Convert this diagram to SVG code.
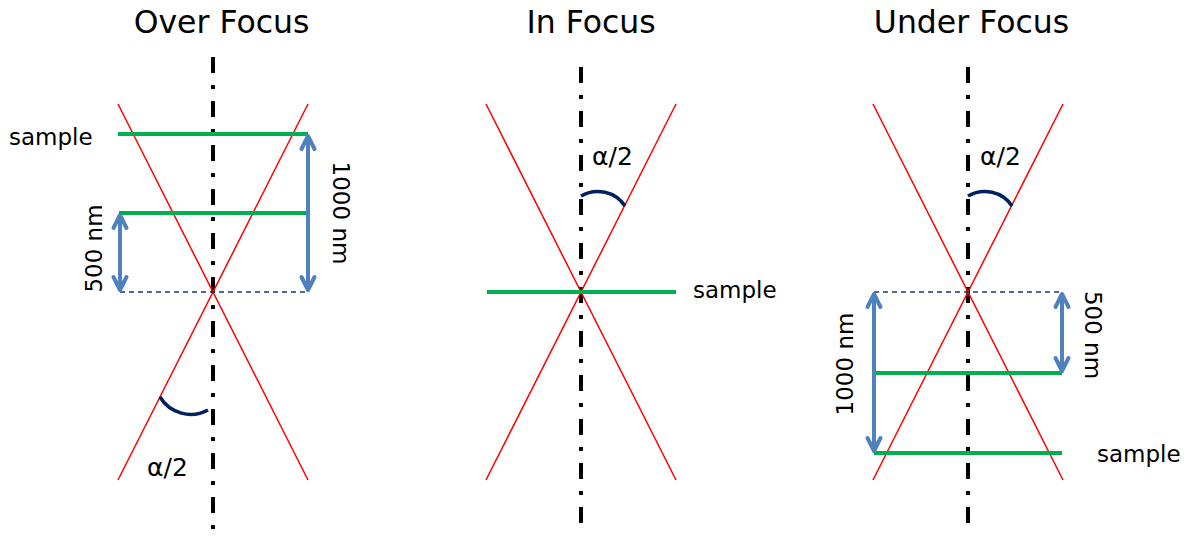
<svg xmlns="http://www.w3.org/2000/svg" width="1192" height="539" viewBox="0 0 1192 539">
<defs>
<style>
.t{font-family:"DejaVu Sans",sans-serif;fill:#000}
.title{font-size:31.5px;text-anchor:middle}
.lbl{font-size:23px}
.al{font-size:25px}
.axis{stroke:#000;stroke-width:4;stroke-dasharray:16 12 4 12;fill:none}
.ray{stroke:#ff0000;stroke-width:1.5;fill:none}
.smp{stroke:#00b050;stroke-width:4;fill:none}
.ref{stroke:#1f3864;stroke-width:1.5;stroke-dasharray:5 4;fill:none}
.dim{stroke:#4f81bd;stroke-width:4;fill:none;marker-start:url(#ah);marker-end:url(#ah)}
.arc{stroke:#002060;stroke-width:3.5;fill:none}
</style>
<marker id="ah" viewBox="-18 -10 22 20" markerWidth="22" markerHeight="20" refX="0" refY="0" orient="auto-start-reverse" markerUnits="userSpaceOnUse" overflow="visible">
<path d="M-13,-6.5 L0,0 L-13,6.5" stroke="#4f81bd" stroke-width="4" fill="none" stroke-linecap="round" stroke-linejoin="round"/>
</marker>
</defs>
<g id="over-focus">
<text class="t title" x="221.5" y="33">Over Focus</text>
<line class="axis" x1="213" y1="57" x2="213" y2="530"/>
<line class="ray" x1="118" y1="104" x2="308" y2="480"/>
<line class="ray" x1="308" y1="104" x2="118" y2="480"/>
<line class="smp" x1="118" y1="134" x2="308" y2="134"/>
<line class="smp" x1="119" y1="213" x2="308" y2="213"/>
<line class="ref" x1="120" y1="292" x2="308" y2="292"/>
<text class="t lbl" x="9" y="145">sample</text>
<text class="t lbl" transform="translate(102,248.5) rotate(-90)" text-anchor="middle">500 nm</text>
<text class="t lbl" transform="translate(333,213) rotate(90)" text-anchor="middle">1000 nm</text>
<path class="arc" d="M160,397 A36,36 0 0 0 208,410"/>
<text class="t al" x="147" y="476">α/2</text>
</g>
<g id="in-focus">
<text class="t title" x="591" y="33">In Focus</text>
<line class="axis" x1="581" y1="67" x2="581" y2="530"/>
<line class="ray" x1="486" y1="104" x2="676" y2="480"/>
<line class="ray" x1="676" y1="104" x2="486" y2="480"/>
<line class="smp" x1="487" y1="292" x2="676" y2="292"/>
<text class="t lbl" x="693" y="298">sample</text>
<path class="arc" d="M581,196 A33,33 0 0 1 625,206"/>
<text class="t al" x="592" y="165">α/2</text>
</g>
<g id="under-focus">
<text class="t title" x="971.5" y="33">Under Focus</text>
<line class="axis" x1="968" y1="67" x2="968" y2="530"/>
<line class="ray" x1="873" y1="104" x2="1063" y2="480"/>
<line class="ray" x1="1063" y1="104" x2="873" y2="480"/>
<line class="ref" x1="874" y1="292" x2="1062" y2="292"/>
<line class="smp" x1="875" y1="373" x2="1062" y2="373"/>
<line class="smp" x1="874" y1="453" x2="1062" y2="453"/>
<text class="t lbl" x="1097" y="462">sample</text>
<text class="t lbl" transform="translate(853,364) rotate(-90)" text-anchor="middle">1000 nm</text>
<text class="t lbl" transform="translate(1085,335) rotate(90)" text-anchor="middle">500 nm</text>
<path class="arc" d="M968,196 A33,33 0 0 1 1012,206"/>
<text class="t al" x="980" y="165">α/2</text>
</g>
<g id="connectors">
<line class="dim" x1="308" y1="136" x2="308" y2="290"/>
<line class="dim" x1="120" y1="215" x2="120" y2="290"/>
<line class="dim" x1="874" y1="294" x2="874" y2="451"/>
<line class="dim" x1="1062" y1="294" x2="1062" y2="371"/>
</g>
</svg>
